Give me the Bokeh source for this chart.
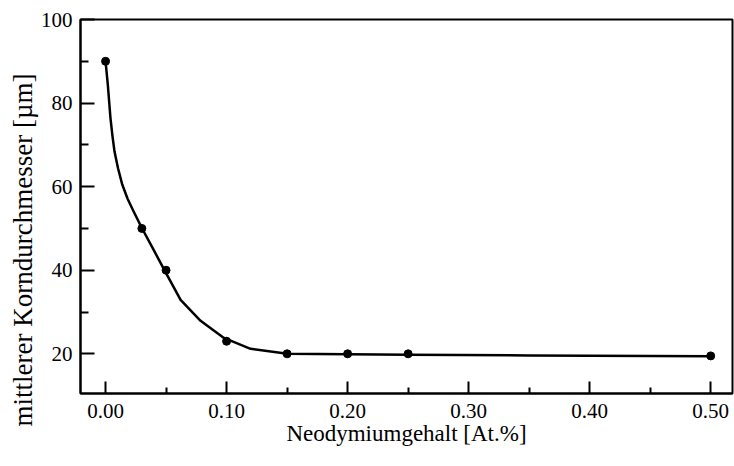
from bokeh.plotting import figure
from bokeh.models import FixedTicker, Range1d, Title
from bokeh.embed import file_html
from bokeh.resources import INLINE

# measured points
nd_content = [0.00, 0.03, 0.05, 0.10, 0.15, 0.20, 0.25, 0.50]
grain_size = [90.0, 50.0, 40.0, 23.0, 20.0, 20.0, 20.0, 19.5]

# fitted curve
curve_x = [0.0, 0.0019, 0.0041, 0.0056, 0.0074, 0.0103, 0.0138, 0.0182, 0.0231, 0.0300,
           0.0393, 0.0483, 0.0620, 0.0785, 0.0978, 0.1198, 0.1502, 0.200, 0.250, 0.350, 0.500]
curve_y = [90.0, 84.3, 76.3, 72.4, 68.4, 64.4, 60.5, 57.1, 54.1, 50.1,
           45.1, 40.2, 32.9, 27.9, 23.8, 21.2, 20.0, 19.9, 19.8, 19.6, 19.4]

x_ticks = [0.0, 0.1, 0.2, 0.3, 0.4, 0.5]
x_tick_labels = ["0.00", "0.10", "0.20", "0.30", "0.40", "0.50"]
x_minor = [0.05, 0.15, 0.25, 0.35, 0.45]
y_ticks = [20, 40, 60, 80, 100]
y_minor = [30, 50, 70, 90]

x_title = "Neodymiumgehalt [At.%]"
y_title = "mittlerer Korndurchmesser  [\u00b5m]"

FONT = "Liberation Serif, Times New Roman, DejaVu Serif, serif"

p = figure(width=734, height=466, output_backend="svg", toolbar_location=None,
           x_range=Range1d(-0.0207, 0.518), y_range=Range1d(10.5, 100),
           min_border_left=80, min_border_right=2, min_border_top=19, min_border_bottom=73)
p.frame_width = 652
p.frame_height = 374

p.background_fill_color = "white"
p.border_fill_color = "white"
p.outline_line_color = "black"
p.outline_line_width = 2
p.xgrid.visible = False
p.ygrid.visible = False

p.line(curve_x, curve_y, line_color="black", line_width=2.5, line_join="round")
p.scatter(nd_content, grain_size, size=8, color="black")

xa = p.xaxis[0]
xa.ticker = FixedTicker(ticks=x_ticks, minor_ticks=x_minor)
xa.major_label_overrides = {t: l for t, l in zip(x_ticks, x_tick_labels)}
xa.axis_label = x_title
xa.major_tick_in = 12
xa.major_tick_out = 0
xa.minor_tick_in = 6
xa.minor_tick_out = 0
xa.major_label_standoff = 10
xa.axis_label_standoff = 0
xa.axis_label_text_font_size = "23px"

ya = p.yaxis[0]
ya.ticker = FixedTicker(ticks=y_ticks, minor_ticks=y_minor)
ya.major_tick_in = 14
ya.major_tick_out = 0
ya.minor_tick_in = 8
ya.minor_tick_out = 0
ya.major_label_standoff = 8

for ax in (xa, ya):
    ax.axis_line_color = "black"
    ax.axis_line_width = 2
    ax.major_tick_line_color = "black"
    ax.major_tick_line_width = 2
    ax.minor_tick_line_color = "black"
    ax.minor_tick_line_width = 2
    ax.major_label_text_font = FONT
    ax.major_label_text_font_size = "21px"
    ax.major_label_text_color = "black"
    ax.axis_label_text_font = FONT
    ax.axis_label_text_font_style = "normal"
    ax.axis_label_text_color = "black"

# y-axis title as a side title, shifted below the frame centre as in the original
ytitle = Title(text=y_title, align="left", offset=-33, standoff=0,
               text_font=FONT, text_font_size="27px", text_font_style="normal",
               text_color="black")
p.add_layout(ytitle, "left")

open("out.html", "w").write(file_html(p, INLINE))
